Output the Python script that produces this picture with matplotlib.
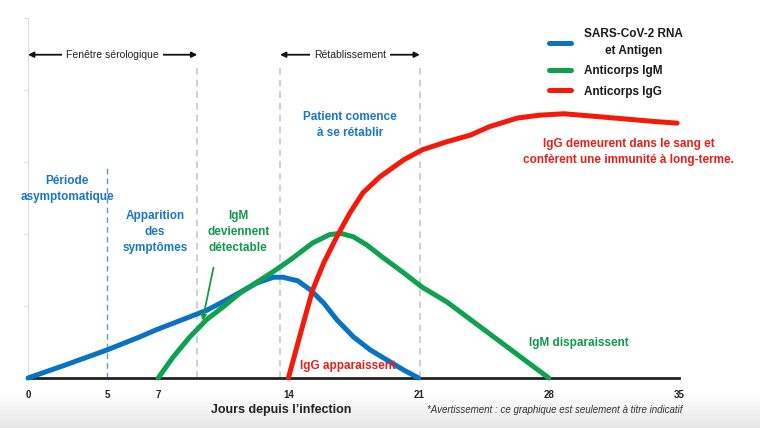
import numpy as np
import matplotlib.pyplot as plt

# jours depuis l'infection / niveau relatif
rna_x = [0, 2, 4.25, 6.0, 6.9, 7.8, 8.7, 9.6, 10.5, 11.4, 12.3, 13.2, 13.7, 14.5, 15.2,
         15.9, 16.6, 17.5, 18.4, 19.3, 20.2, 21]
rna_y = [0, 0.18, 0.39, 0.57, 0.67, 0.76, 0.85, 0.94, 1.06, 1.19, 1.32, 1.40, 1.40, 1.35, 1.22,
         1.04, 0.81, 0.57, 0.39, 0.25, 0.11, 0]

igm_x = [7, 7.8, 8.7, 9.6, 10.5, 11.4, 12.3, 13.2, 14.1, 15.3, 16.2, 16.8, 17.5, 18.2, 19.1,
         20.2, 21.2, 22.5, 23.8, 28]
igm_y = [0, 0.29, 0.57, 0.81, 0.99, 1.18, 1.33, 1.48, 1.64, 1.875, 1.99, 2.01, 1.96, 1.85, 1.67,
         1.46, 1.26, 1.06, 0.81, 0]

igg_x = [14, 14.8, 15.3, 15.9, 16.6, 17.3, 18.0, 18.9, 20.2, 21.2, 22.5, 23.8, 24.8, 26.3,
         27.5, 28.8, 30.2, 32.0, 33.8, 34.9]
igg_y = [0, 0.76, 1.22, 1.60, 1.96, 2.29, 2.57, 2.79, 3.03, 3.17, 3.28, 3.375, 3.49, 3.61,
         3.65, 3.67, 3.64, 3.60, 3.56, 3.54]

tick_pos = [0, 4.25, 7, 14, 21, 28, 35]
tick_lab = ['0', '5', '7', '14', '21', '28', '35']

BLUE = '#0a72c4'
GREEN = '#0ea150'
RED = '#f5190a'
TBLUE = '#1a78c2'
TGREEN = '#12994c'
TRED = '#e8201a'

plt.rcParams['font.family'] = ['Liberation Sans', 'DejaVu Sans']

fig = plt.figure(figsize=(7.6, 4.28), dpi=100)
ax = fig.add_axes([28 / 760, 50 / 428, 651 / 760, 360 / 428])
ax.set_xlim(0, 35)
ax.set_ylim(0, 5)

# fond gris en bas
bg = fig.add_axes([0, 0, 1, 34 / 428], zorder=-1)
shade = np.linspace(1.0, 0.9, 50)
bg.imshow(np.dstack([shade, shade, shade]).reshape(-1, 1, 3), aspect='auto',
          extent=[0, 1, 0, 1])
bg.axis('off')

# lignes pointillées
for d in [9.1, 13.55, 21.07]:
    ax.plot([d, d], [0, 4.35], ls=(0, (4, 3)), color='#c8c8c8', lw=1.2, zorder=1)
ax.plot([4.25, 4.25], [0, 2.96], ls=(0, (4, 3)), color='#5b9bd5', lw=1.0, zorder=1)

ax.plot(rna_x, rna_y, color=BLUE, lw=3.6, label='SARS-CoV-2 RNA\net Antigen',
        clip_on=False, zorder=3, solid_capstyle='round', solid_joinstyle='round')
ax.plot(igm_x, igm_y, color=GREEN, lw=3.6, label='Anticorps IgM',
        clip_on=False, zorder=3, solid_capstyle='round', solid_joinstyle='round')
ax.plot(igg_x, igg_y, color=RED, lw=3.6, label='Anticorps IgG',
        clip_on=False, zorder=4, solid_capstyle='round', solid_joinstyle='round')

# axes
for s in ['top', 'right']:
    ax.spines[s].set_visible(False)
ax.spines['left'].set_color('#dddddd')
ax.spines['left'].set_linewidth(0.8)
ax.spines['bottom'].set_color('#222222')
ax.spines['bottom'].set_linewidth(2)
ax.spines['bottom'].set_zorder(2)
ax.set_yticks([1, 2, 3, 4, 5])
ax.set_yticklabels([])
ax.tick_params(axis='y', length=3, color='#dddddd')
ax.set_xticks(tick_pos)
ax.set_xticklabels(tick_lab, fontsize=7, fontweight='bold', color='#222222')
ax.tick_params(axis='x', length=0, pad=9)
ax.set_xticks([0, 35], minor=True)
ax.tick_params(axis='x', which='minor', length=7, width=1.5, direction='inout', color='#222222')

fig.text(281 / 760, 1 - 410 / 428, "Jours depuis l\u2019infection", fontsize=9,
         fontweight='bold', ha='center', va='center', color='#222222')
fig.text(555 / 760, 1 - 410 / 428,
         "*Avertissement : ce graphique est seulement \u00e0 titre indicatif",
         fontsize=7, style='italic', ha='center', va='center', color='#333333')

# flèches du haut
for x0, x1, txt in [(0, 9.1, 'Fen\u00eatre s\u00e9rologique'), (13.55, 21.07, 'R\u00e9tablissement')]:
    ax.annotate('', xy=(x0, 4.49), xytext=(x1, 4.49),
                arrowprops=dict(arrowstyle='<|-|>', color='#111111', lw=1.3,
                                mutation_scale=8, shrinkA=0, shrinkB=0), annotation_clip=False)
    ax.text((x0 + x1) / 2, 4.49, txt, fontsize=7.5, ha='center', va='center', color='#222222',
            bbox=dict(facecolor='white', edgecolor='none', pad=3))

tkw = dict(ha='center', va='center', fontweight='bold', linespacing=1.45)
ax.text(17.3, 3.51, 'Patient comence\n\u00e0 se r\u00e9tablir', fontsize=8.5, color=TBLUE, **tkw)
ax.text(32.3, 3.14, 'IgG demeurent dans le sang et\nconf\u00e8rent une immunit\u00e9 \u00e0 long-terme.',
        fontsize=8.5, color=TRED, **tkw)
ax.text(2.1, 2.63, 'P\u00e9riode\nasymptomatique', fontsize=8.5, color=TBLUE, **tkw)
ax.text(6.83, 2.03, 'Apparition\ndes\nsympt\u00f4mes', fontsize=8.5, color=TBLUE, **tkw)
ax.text(11.3, 2.03, 'IgM\ndeviennent\nd\u00e9tectable', fontsize=8.5, color=TGREEN, **tkw)
ax.text(17.2, 0.17, 'IgG apparaissent', fontsize=8.5, color=TRED, zorder=5, **tkw)
ax.text(29.6, 0.49, 'IgM disparaissent', fontsize=8.5, color=TGREEN, **tkw)
ax.annotate('', xy=(9.35, 0.76), xytext=(10.0, 1.57),
            arrowprops=dict(arrowstyle='-|>', color=TGREEN, lw=1.3, mutation_scale=8))

leg = ax.legend(loc='upper left', bbox_to_anchor=(538 / 760, 1 - 17 / 428),
                bbox_transform=fig.transFigure, frameon=False, fontsize=8.5,
                handlelength=1.9, handletextpad=1.1, labelspacing=0.7)
for t in leg.get_texts():
    t.set_fontweight('bold')
    t.set_multialignment('center')
    t.set_linespacing(1.6)
    t.set_color('#1a1a1a')

fig.savefig('out.png', dpi=100)
